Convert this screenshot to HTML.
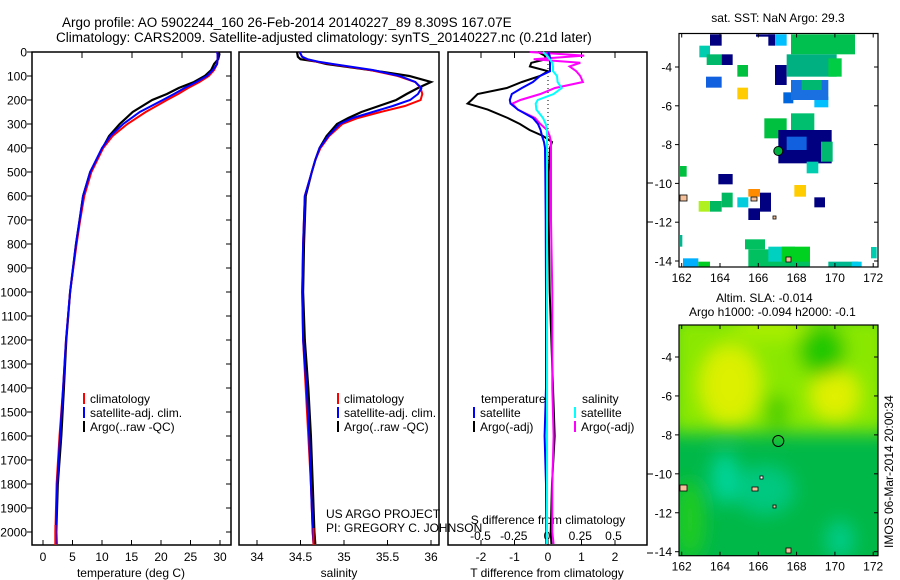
<!DOCTYPE html>
<html><head><meta charset="utf-8"><style>
body{margin:0;background:#fff;}
svg{display:block;font-family:"Liberation Sans",sans-serif;}
text{fill:#000;}
</style></head><body>
<svg id="fig" width="900" height="580" viewBox="0 0 900 580">
<rect width="900" height="580" fill="#fff"/>
<text x="62" y="27" font-size="13.5">Argo profile: AO 5902244_160 26-Feb-2014 20140227_89 8.309S 167.07E</text>
<text x="56" y="42" font-size="13.5">Climatology: CARS2009. Satellite-adjusted climatology: synTS_20140227.nc (0.21d later)</text>
<g id="plots"></g>
<g id="maps"></g>
</svg>
<script>
// ---------- data ----------
const depthTS = [0,10,30,50,75,100,125,150,175,200,250,300,350,400,500,600,700,800,1000,1200,1400,1600,1800,2000,2050];
const tempClim = [29.5,29.6,29.6,29.5,29.0,28.1,26.5,24.6,22.9,21.0,17.4,14.3,11.8,10.2,8.2,7.0,6.3,5.7,4.6,3.9,3.4,2.8,2.3,2.1,2.1];
const tempSat = [29.5,29.6,29.6,29.5,28.8,27.8,26.0,24.0,22.2,20.3,16.4,13.6,11.4,10.0,8.0,6.8,6.2,5.6,4.6,3.9,3.4,2.9,2.4,2.2,2.2];
const tempArgo = [29.8,29.9,29.7,29.0,28.5,27.4,25.6,23.0,21.0,18.5,15.2,13.0,11.2,10.1,8.0,6.8,6.2,5.6,4.6,3.95,3.55,3.1,2.5,2.25,2.3];

const depthSal = [0,20,30,40,50,75,100,125,150,175,200,225,250,275,300,350,400,450,500,600,800,1000,1200,1400,1600,1800,2000,2050];
const salClim = [34.49,34.52,34.57,34.68,34.85,35.3,35.62,35.82,35.88,35.9,35.88,35.7,35.42,35.16,34.98,34.83,34.73,34.67,34.63,34.55,34.53,34.52,34.53,34.56,34.59,34.62,34.64,34.65];
const salSat = [34.49,34.52,34.58,34.7,34.87,35.33,35.64,35.82,35.89,35.85,35.76,35.56,35.33,35.1,34.95,34.82,34.72,34.67,34.63,34.55,34.53,34.52,34.53,34.57,34.6,34.62,34.64,34.65];
const salArgo = [34.46,34.47,34.5,34.68,34.8,35.3,35.75,36.0,35.85,35.72,35.6,35.4,35.2,35.05,34.92,34.8,34.72,34.67,34.63,34.56,34.54,34.53,34.55,34.59,34.62,34.64,34.66,34.67];

const depthDiff = [0,15,30,45,60,80,100,125,150,175,200,215,240,275,300,325,350,375,400,500,700,1000,1400,1600,1800,2000,2050];
const dTSat = [0,0.05,0.06,0.06,0.06,0.06,-0.24,-0.45,-0.78,-1.08,-1.14,-1.12,-0.9,-0.45,-0.3,-0.22,-0.18,-0.12,-0.09,-0.08,-0.07,-0.06,-0.06,-0.1,-0.06,-0.05,-0.05];
const dTArgo = [-0.3,-0.1,-0.05,-0.5,-0.54,0,-0.24,-0.78,-1.23,-2.1,-2.28,-2.4,-1.8,-1.2,-0.84,-0.55,-0.15,0.12,0.06,0.02,0.02,0.05,0.15,0.2,0.12,0.08,0.1];
const dSSat = [-0.03,0,0.02,0.04,0.045,0.045,0.075,0.08,0.11,0.05,-0.07,-0.085,-0.08,-0.03,-0.01,0,0,0,0,0,0,0,0,0,0,0,0];
const dSArgo = [-0.13,0.28,-0.1,0.25,0.17,0.22,0.25,0.27,0.06,-0.05,-0.2,-0.26,-0.22,-0.09,-0.05,0,0.02,0.03,0.03,0.03,0.03,0.04,0.04,0.05,0.04,0.04,0.05];

const depthTicks = [0,100,200,300,400,500,600,700,800,900,1000,1100,1200,1300,1400,1500,1600,1700,1800,1900,2000];
const tempTicks = [0,5,10,15,20,25,30];
const salTicks = [34,34.5,35,35.5,36];
const salTickLabels = ["34","34.5","35","35.5","36"];
const dTTicks = [-2,-1,0,1,2];
const dSTicks = [-0.5,-0.25,0,0.25,0.5];
const dSTickLabels = ["-0.5","-0.25","0","0.25","0.5"];

// ---------- axes ----------
const yD = d => 52 + d*0.24;
const xT = t => 43 + t*5.9;
const xS = s => 257 + (s-34)*87;
const xdT = v => 548 + v*33.5;
const xdS = v => 547 + v*133;

const NS='http://www.w3.org/2000/svg';
const plots=document.getElementById('plots');
function mk(tag,attrs,parent){const e=document.createElementNS(NS,tag);for(const k in attrs)e.setAttribute(k,attrs[k]);(parent||plots).appendChild(e);return e;}
function txt(x,y,s,anchor,size,parent){const t=mk('text',{x:x,y:y,'font-size':size||12,'text-anchor':anchor||'start'},parent);t.textContent=s;return t;}
function line(xs,ds,fx,color,w,name){
  const pts=xs.map((v,i)=>fx(v).toFixed(1)+','+yD(ds[i]).toFixed(1)).join(' ');
  const p=mk('polyline',{points:pts,fill:'none',stroke:color,'stroke-width':w||2});
  
  
}
const panels=[[32,231,'temperature-panel'],[239,439,'salinity-panel'],[448,647,'difference-panel']];
panels.forEach(p=>{
  const r=mk('rect',{x:p[0],y:52,width:p[1]-p[0],height:493,fill:'none',stroke:'#000','stroke-width':1.5});
  
  
});
depthTicks.forEach(d=>{
  mk('line',{x1:27,x2:32,y1:yD(d),y2:yD(d),stroke:'#000'});
  mk('line',{x1:226,x2:231,y1:yD(d),y2:yD(d),stroke:'#000'});
  const t=txt(27,yD(d)+4.5,String(d),'end',12);
  
  
});
tempTicks.forEach(v=>{
  mk('line',{x1:xT(v),x2:xT(v),y1:545,y2:540,stroke:'#000'});
  const t=txt(xT(v),561,String(v),'middle',12);
  
  
});
[82,132,182].forEach(x=>mk('line',{x1:x,x2:x,y1:52,y2:58,stroke:'#000'}));
const tt=txt(131,577,'temperature (deg C)','middle',12);


salTicks.forEach((v,i)=>{
  mk('line',{x1:xS(v),x2:xS(v),y1:545,y2:540,stroke:'#000'});
  const t=txt(xS(v),561,salTickLabels[i],'middle',12);
  
  
});
const st=txt(339,577,'salinity','middle',12);


dTTicks.forEach(v=>{
  mk('line',{x1:xdT(v),x2:xdT(v),y1:545,y2:540,stroke:'#000'});
  mk('line',{x1:xdT(v),x2:xdT(v),y1:52,y2:58,stroke:'#000'});
  const t=txt(xdT(v),561,String(v),'middle',12);
  
  
});
dSTicks.forEach((v,i)=>{
  const t=txt(xdS(v),540,dSTickLabels[i],'middle',12);
  
  
});
[183,222,474,553].forEach(y=>mk('line',{x1:647,x2:653,y1:y,y2:y,stroke:'#000'}));
const dt=txt(547,577,'T difference from climatology','middle',12);


const ds=txt(548,524,'S difference from climatology','middle',12);


mk('line',{x1:548,x2:548,y1:52,y2:170,stroke:'#000','stroke-dasharray':'1,3'});

line(tempArgo,depthTS,xT,'#000',2.2,'temperature-argo-line');
line(tempClim,depthTS,xT,'#f00',2,'temperature-climatology-line');
line(tempSat,depthTS,xT,'#00f',2,'temperature-satellite-line');
line(salArgo,depthSal,xS,'#000',2.2,'salinity-argo-line');
line(salClim,depthSal,xS,'#f00',2,'salinity-climatology-line');
line(salSat,depthSal,xS,'#00f',2,'salinity-satellite-line');
line(dTArgo,depthDiff,xdT,'#000',2,'t-difference-argo-line');
line(dSArgo,depthDiff,xdS,'#f0f',2,'s-difference-argo-line');
line(dTSat,depthDiff,xdT,'#00f',2,'t-difference-satellite-line');
line(dSSat,depthDiff,xdS,'#0ff',2,'s-difference-satellite-line');
mk('line',{x1:xT(2.1),x2:xT(2.1),y1:525,y2:545,stroke:'#f00','stroke-width':2});
mk('line',{x1:xS(34.65),x2:xS(34.65),y1:528,y2:545,stroke:'#f00','stroke-width':2});

function legend(x,y,color,label,name){
  const g=mk('g',{});
  
  
  mk('line',{x1:x,x2:x,y1:y-10,y2:y+1,stroke:color,'stroke-width':2},g);
  txt(x+6,y,label,'start',12,g);
}
legend(84,403,'#f00','climatology','legend-climatology');
legend(84,417,'#00f','satellite-adj. clim.','legend-satellite-adj');
legend(84,431,'#000','Argo(..raw -QC)','legend-argo');
legend(338,403,'#f00','climatology','legend-climatology-sal');
legend(338,417,'#00f','satellite-adj. clim.','legend-satellite-adj-sal');
legend(338,431,'#000','Argo(..raw -QC)','legend-argo-sal');
txt(481,403,'temperature','start',12);
txt(582,403,'salinity','start',12);
legend(474,417,'#00f','satellite','legend-t-satellite');
legend(474,431,'#000','Argo(-adj)','legend-t-argo');
legend(575,417,'#0ff','satellite','legend-s-satellite');
legend(575,431,'#f0f','Argo(-adj)','legend-s-argo');
txt(326,518,'US ARGO PROJECT','start',12);
txt(326,532,'PI: GREGORY C. JOHNSON','start',12);

// ---------- maps ----------
const maps=document.getElementById('maps');
const lonTicks=[162,164,166,168,170,172];
const latTicks=[-4,-6,-8,-10,-12,-14];
const mx = lon => 681.7 + (lon-162)*19.15;
const myTop = lat => 67 + (-4-lat)*19.4;
const myBot = lat => 357 + (-4-lat)*19.47;
function mapAxes(top,bottom,fy,name){
  const r=mk('rect',{x:679,y:top,width:199,height:bottom-top,fill:'none',stroke:'#000','stroke-width':1.2},maps);
  
  
  lonTicks.forEach(v=>{
    mk('line',{x1:mx(v),x2:mx(v),y1:bottom,y2:bottom-4,stroke:'#000'},maps);
    mk('line',{x1:mx(v),x2:mx(v),y1:top,y2:top+4,stroke:'#000'},maps);
    txt(mx(v),bottom+15,String(v),'middle',12,maps);
  });
  latTicks.forEach(v=>{
    mk('line',{x1:679,x2:675,y1:fy(v),y2:fy(v),stroke:'#000'},maps);
    mk('line',{x1:878,x2:874,y1:fy(v),y2:fy(v),stroke:'#000'},maps);
    txt(672,fy(v)+4.5,String(v),'end',12,maps);
  });
}
const sstCells=[
[165,103,35,34,'#000080'],[303,103,57,7,'#000080'],[340,103,20,34,'#000080'],[360,103,35,34,'#00bfff'],
[133,137,32,35,'#00ccb0'],[155,163,45,32,'#00b86a'],[200,163,33,32,'#000080'],[247,195,32,35,'#00c040'],
[360,195,35,60,'#000080'],[153,230,47,33,'#1060e0'],[247,263,32,35,'#ffcc00'],[385,277,30,33,'#0066dd'],
[478,290,42,32,'#00bfff'],[408,103,192,60,'#00c050'],[395,163,150,67,'#00b080'],[520,175,40,55,'#00cc44'],
[408,240,112,60,'#1a70e0'],[440,240,60,30,'#00b870'],[328,355,67,60,'#00c040'],[408,340,70,60,'#00c070'],
[370,390,160,100,'#000080'],[395,410,60,40,'#1060e0'],[455,485,35,35,'#00ccb0'],[498,425,35,60,'#00b870'],
[75,498,20,32,'#00c040'],[190,522,43,31,'#000080'],[418,555,35,35,'#ffcc00'],[280,567,35,23,'#ff8c00'],
[315,578,33,57,'#000080'],[280,625,35,35,'#000080'],[247,592,33,30,'#00ccdd'],[200,578,33,44,'#00b860'],
[165,603,35,32,'#00b860'],[131,603,34,32,'#b0f020'],[478,592,32,30,'#000080'],[270,718,60,30,'#00c060'],
[280,748,185,52,'#00c060'],[340,740,80,45,'#00d0c0'],[380,740,85,45,'#00d020'],[84,775,46,25,'#00b0ff'],
[130,785,35,15,'#00cc22'],[520,785,90,15,'#00b890'],[590,785,30,15,'#00ccee'],[648,741,17,34,'#00ccb0'],[75,705,7,35,'#00b890']];
const sstG=mk('g',{},maps);


sstCells.forEach(c=>{mk('rect',{x:655+c[0]/3,y:c[1]/3,width:c[2]/3,height:c[3]/3,fill:c[4]},sstG);});
const c1=mk('circle',{cx:778.3,cy:151,r:4.5,fill:'#00b040',stroke:'#000','stroke-width':1},maps);


mapAxes(33.5,267,myTop,'sst-map');
txt(778,22,'sat. SST: NaN Argo: 29.3','middle',12,maps);

const defs=mk('defs',{},maps);
const f=mk('filter',{id:'bl',x:'-50%',y:'-50%',width:'200%',height:'200%'},defs);
mk('feGaussianBlur',{stdDeviation:9},f);
const cp=mk('clipPath',{id:'cp'},defs);
mk('rect',{x:679,y:325,width:199,height:231},cp);
const sla=mk('g',{'clip-path':'url(#cp)'},maps);


mk('rect',{x:679,y:325,width:199,height:231,fill:'#00b848'},sla);
const blobs=mk('g',{filter:'url(#bl)'},sla);
mk('rect',{x:670,y:315,width:220,height:118,fill:'#8ae800'},blobs);
mk('ellipse',{cx:730,cy:385,rx:30,ry:40,fill:'#dcf000'},blobs);
mk('ellipse',{cx:835,cy:395,rx:24,ry:25,fill:'#e0f000'},blobs);
mk('ellipse',{cx:822,cy:350,rx:24,ry:26,fill:'#22c800'},blobs);
mk('ellipse',{cx:770,cy:325,rx:40,ry:15,fill:'#aaee00'},blobs);
mk('ellipse',{cx:777,cy:412,rx:12,ry:18,fill:'#44cc00'},blobs);
mk('ellipse',{cx:725,cy:478,rx:14,ry:26,fill:'#00d49a'},blobs);
mk('ellipse',{cx:765,cy:490,rx:30,ry:25,fill:'#00c880'},blobs);
mk('ellipse',{cx:840,cy:540,rx:14,ry:20,fill:'#00cc88'},blobs);
mk('ellipse',{cx:690,cy:520,rx:14,ry:40,fill:'#22cc22'},blobs);
const c2=mk('circle',{cx:778.3,cy:441,r:5.5,fill:'none',stroke:'#000','stroke-width':1},maps);


[[680,485,7,6,'#f5c09a'],[752,487,6,4,'#f5c09a'],[773,505,3,3,'#f5c09a'],[786,548,5,5,'#f5c09a'],[760,476,3,3,'#fff']].forEach(s=>mk('rect',{x:s[0],y:s[1],width:s[2],height:s[3],fill:s[4],stroke:'#000','stroke-width':0.8},maps));
[[680,195,7,6],[751,197,6,4],[773,216,3,3],[786,257,5,5]].forEach(s=>mk('rect',{x:s[0],y:s[1],width:s[2],height:s[3],fill:'#f5c09a',stroke:'#000','stroke-width':0.8},maps));
mapAxes(325,555.7,myBot,'sla-map');
txt(716,302,'Altim. SLA: -0.014','start',12,maps);
txt(689,316,'Argo h1000: -0.094 h2000: -0.1','start',12,maps);
const imos=txt(0,0,'IMOS 06-Mar-2014 20:00:34','start',12,maps);
imos.setAttribute('transform','translate(893,548) rotate(-90)');


</script>
</body></html>
